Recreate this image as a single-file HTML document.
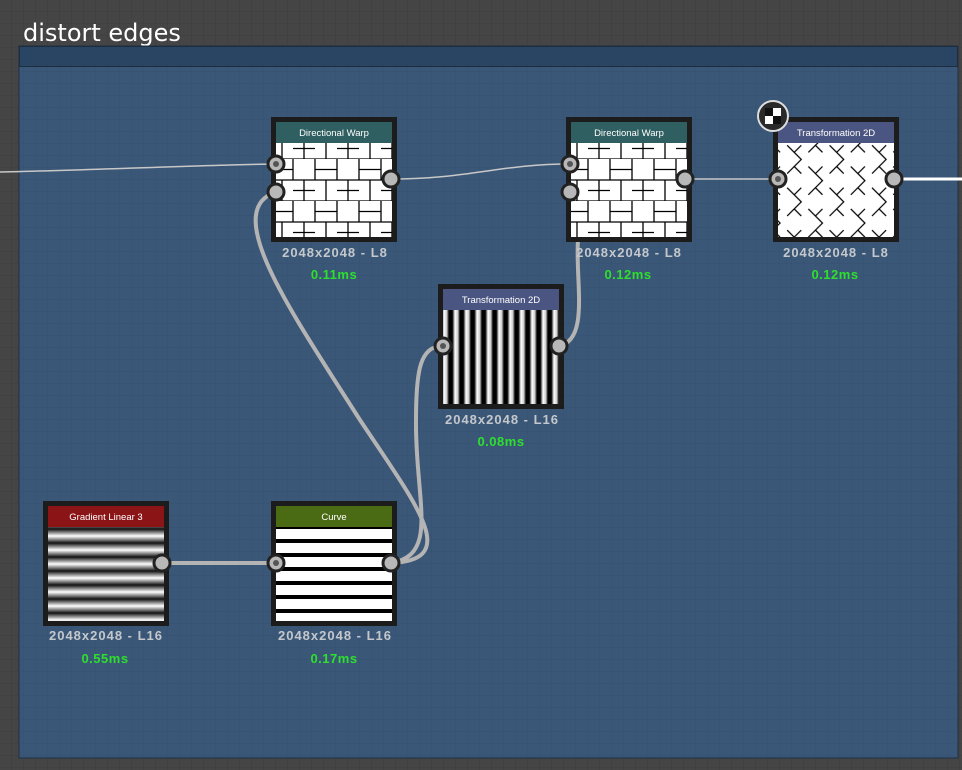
<!DOCTYPE html>
<html><head><style>
html,body{margin:0;padding:0;background:#454545;}
svg{display:block;}
text{font-family:"Liberation Sans",sans-serif;}
</style></head><body>
<svg width="962" height="770" viewBox="0 0 962 770" xmlns="http://www.w3.org/2000/svg">
<defs>
<pattern id="g1" width="12" height="12" patternUnits="userSpaceOnUse"><path d="M12 0V12H0" fill="none" stroke="#3d3d3d" stroke-width="1"/></pattern>
<pattern id="g2" width="12" height="12" patternUnits="userSpaceOnUse"><path d="M12 0V12H0" fill="none" stroke="#365170" stroke-width="1"/></pattern>
<linearGradient id="hb" x1="0" y1="0" x2="0" y2="1"><stop offset="0" stop-color="#111"/><stop offset="0.5" stop-color="#fff"/><stop offset="1" stop-color="#111"/></linearGradient>
<pattern id="hstripe" width="10" height="14" patternUnits="userSpaceOnUse"><rect width="10" height="14" fill="url(#hb)"/></pattern>
<pattern id="cstripe" width="10" height="14" patternUnits="userSpaceOnUse"><rect width="10" height="14" fill="#fff"/><rect y="10" width="10" height="4" fill="#000"/></pattern>
<linearGradient id="vb" x1="0" y1="0" x2="1" y2="0"><stop offset="0" stop-color="#000"/><stop offset="0.3" stop-color="#000"/><stop offset="0.55" stop-color="#fff"/><stop offset="0.8" stop-color="#ccc"/><stop offset="1" stop-color="#000"/></linearGradient>
<pattern id="vstripe" width="11" height="10" patternUnits="userSpaceOnUse"><rect width="11" height="10" fill="url(#vb)"/></pattern>
<pattern id="brick" width="44" height="42" patternUnits="userSpaceOnUse"><rect width="44" height="42" fill="#fff"/><path d="M0 10.5H22M0 21H44M22 31.5H44M0 42H44M22 0V21M11 21V42M33 21V42M0 0V21M44 0V21" stroke="#000" stroke-width="1.3" fill="none"/></pattern>
<pattern id="herring" width="30" height="30" patternUnits="userSpaceOnUse" patternTransform="rotate(45)"><rect width="30" height="30" fill="#fff"/><path d="M0 10H20V20H30M10 0V10M20 20V30M0 30" stroke="#000" stroke-width="1.2" fill="none"/></pattern>
</defs>
<rect width="962" height="770" fill="#454545"/>
<rect width="962" height="770" fill="url(#g1)"/>
<text x="23" y="41" font-size="24" fill="#fff" style="font-family:'DejaVu Sans','Liberation Sans',sans-serif">distort edges</text>
<rect x="19" y="46" width="939" height="712" fill="#3b5777" stroke="#1e2f44" stroke-width="1"/>
<rect x="19" y="46" width="939" height="712" fill="url(#g2)"/>
<rect x="19.5" y="46.5" width="938" height="20" fill="#2a4463" stroke="#1c2d40"/>

<g fill="none" stroke-linecap="round">
<path d="M0 172 C100 170 200 165 276 164" stroke="#c8c8c8" stroke-width="1.5"/>
<path d="M391 179 C470 179 500 164 570 164" stroke="#c8c8c8" stroke-width="1.5"/>
<path d="M685 179 L778 179" stroke="#c8c8c8" stroke-width="1.5"/>
<path d="M894 179 L962 179" stroke="#fff" stroke-width="3"/>
<path d="M162 563 L276 563" stroke="#b4b4b4" stroke-width="4"/>
<path d="M391 563 C460 560 420 510 360 420 C290 310 220 210 276 192" stroke="#b4b4b4" stroke-width="4"/>
<path d="M391 563 C440 555 415 500 416 420 C416 370 420 346 443 346" stroke="#b4b4b4" stroke-width="4"/>
<path d="M559 346 C590 340 575 280 578 240 C580 205 560 195 570 192" stroke="#b4b4b4" stroke-width="4"/>
</g>

<g transform="translate(271,117)">
<rect width="126" height="125" fill="#1c1c1c"/>
<rect x="5" y="26" width="116" height="94" fill="url(#brick)"/>
<rect x="5" y="5" width="116" height="21" fill="#2f5f60"/>
<text x="63" y="19" font-size="9.5" fill="#fff" text-anchor="middle">Directional Warp</text>
</g>
<g transform="translate(566,117)">
<rect width="126" height="125" fill="#1c1c1c"/>
<rect x="5" y="26" width="116" height="94" fill="url(#brick)"/>
<rect x="5" y="5" width="116" height="21" fill="#2f5f60"/>
<text x="63" y="19" font-size="9.5" fill="#fff" text-anchor="middle">Directional Warp</text>
</g>
<g transform="translate(773,117)">
<rect width="126" height="125" fill="#1c1c1c"/>
<rect x="5" y="26" width="116" height="94" fill="url(#herring)"/>
<rect x="5" y="5" width="116" height="21" fill="#4a5581"/>
<text x="63" y="19" font-size="9.5" fill="#fff" text-anchor="middle">Transformation 2D</text>
</g>
<circle cx="773" cy="116" r="15" fill="#2a2a2a" stroke="#ddd" stroke-width="2"/>
<rect x="765" y="108" width="16" height="16" fill="#fff"/>
<rect x="765" y="108" width="8" height="8" fill="#111"/><rect x="773" y="116" width="8" height="8" fill="#111"/>
<g transform="translate(438,284)">
<rect width="126" height="125" fill="#1c1c1c"/>
<rect x="5" y="26" width="116" height="94" fill="url(#vstripe)"/>
<rect x="5" y="5" width="116" height="21" fill="#4a5581"/>
<text x="63" y="19" font-size="9.5" fill="#fff" text-anchor="middle">Transformation 2D</text>
</g>
<g transform="translate(43,501)">
<rect width="126" height="125" fill="#1c1c1c"/>
<rect x="5" y="26" width="116" height="94" fill="url(#hstripe)"/>
<rect x="5" y="5" width="116" height="21" fill="#8a1416"/>
<text x="63" y="19" font-size="9.5" fill="#fff" text-anchor="middle">Gradient Linear 3</text>
</g>
<g transform="translate(271,501)">
<rect width="126" height="125" fill="#1c1c1c"/>
<rect x="5" y="26" width="116" height="94" fill="url(#cstripe)"/>
<rect x="5" y="5" width="116" height="21" fill="#4a6a14"/>
<text x="63" y="19" font-size="9.5" fill="#fff" text-anchor="middle">Curve</text>
</g>

<g stroke="#222" stroke-width="3" fill="#b8b8b8">
<circle cx="276" cy="164" r="8"/><circle cx="276" cy="192" r="8"/><circle cx="391" cy="179" r="8"/>
<circle cx="570" cy="164" r="8"/><circle cx="570" cy="192" r="8"/><circle cx="685" cy="179" r="8"/>
<circle cx="778" cy="179" r="8"/><circle cx="894" cy="179" r="8"/>
<circle cx="443" cy="346" r="8"/><circle cx="559" cy="346" r="8"/>
<circle cx="162" cy="563" r="8"/><circle cx="276" cy="563" r="8"/><circle cx="391" cy="563" r="8"/>
</g>
<g fill="#555">
<circle cx="276" cy="164" r="3"/><circle cx="570" cy="164" r="3"/><circle cx="778" cy="179" r="3"/><circle cx="443" cy="346" r="3"/><circle cx="276" cy="563" r="3"/>
</g>

<g font-size="13" font-weight="bold" fill="#c4c8cc" text-anchor="middle" letter-spacing="1" style="font-family:'DejaVu Sans','Liberation Sans',sans-serif">
<text x="335" y="257">2048x2048 - L8</text>
<text x="629" y="257">2048x2048 - L8</text>
<text x="836" y="257">2048x2048 - L8</text>
<text x="502" y="424">2048x2048 - L16</text>
<text x="106" y="640">2048x2048 - L16</text>
<text x="335" y="640">2048x2048 - L16</text>
</g>
<g font-size="13" font-weight="bold" fill="#2ee02e" text-anchor="middle" letter-spacing="0.5" style="font-family:'DejaVu Sans','Liberation Sans',sans-serif">
<text x="334" y="279">0.11ms</text>
<text x="628" y="279">0.12ms</text>
<text x="835" y="279">0.12ms</text>
<text x="501" y="446">0.08ms</text>
<text x="105" y="663">0.55ms</text>
<text x="334" y="663">0.17ms</text>
</g>
</svg>
</body></html>
